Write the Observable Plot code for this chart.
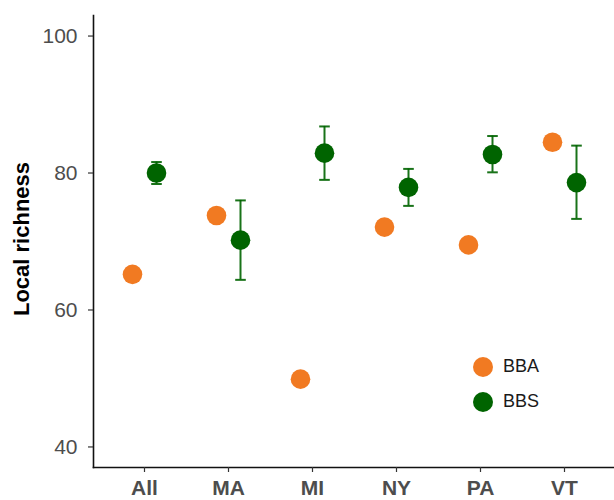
<!DOCTYPE html>
<html><head><meta charset="utf-8">
<script src="https://cdn.jsdelivr.net/npm/d3@7"></script>
<script src="https://cdn.jsdelivr.net/npm/@observablehq/plot@0.6"></script>
<style>
body{margin:0;background:#fff;font-family:"Liberation Sans",Arial,sans-serif}
#wrap{position:relative;width:614px;height:500px}
#ylab{position:absolute;left:22px;top:239px;transform:translate(-50%,-50%) rotate(-90deg);white-space:nowrap;font-size:22px;font-weight:bold;color:#000;line-height:1}
#legend{position:absolute;left:473px;top:349px;font-size:18px;color:#1a1a1a}
#legend .row{display:flex;align-items:center;height:35px;margin-top:0}
#legend .sw{width:20px;height:20px;border-radius:50%;margin-right:10px}
svg text{font-family:"Liberation Sans",Arial,sans-serif}
</style></head><body>
<div id="wrap"></div>
<script>
const states = ["All","MA","MI","NY","PA","VT"];
const bba = [65.2, 73.8, 49.9, 72.1, 69.5, 84.5];
const bbs = [80.0, 70.2, 82.9, 77.9, 82.7, 78.6];
const bbsLow = [78.4, 64.4, 79.0, 75.2, 80.1, 73.3];
const bbsHigh = [81.6, 76.0, 86.8, 80.6, 85.4, 84.0];
const yTicks = [40, 60, 80, 100];
const sources = ["BBA", "BBS"];
const colors = ["#f17a22", "#006400"];

const bbaData = states.map((s, i) => ({state: s, value: bba[i]}));
const bbsData = states.map((s, i) => ({state: s, value: bbs[i], lo: bbsLow[i], hi: bbsHigh[i]}));

const cap = {draw(ctx, size) { const r = Math.sqrt(size / Math.PI); ctx.moveTo(-r, 0); ctx.lineTo(r, 0); }};

const chart = Plot.plot({
  width: 614, height: 500,
  marginLeft: 93, marginRight: 0, marginTop: 15, marginBottom: 33,
  style: {background: "#fff", fontFamily: "Liberation Sans, Arial, sans-serif"},
  x: {type: "point", domain: states, padding: 0.6},
  y: {domain: [37, 103]},
  marks: [
    Plot.frame({anchor: "left", stroke: "#111", strokeWidth: 1.6}),
    Plot.frame({anchor: "bottom", stroke: "#111", strokeWidth: 1.6}),
    Plot.axisY({ticks: yTicks, tickSize: 5, tickPadding: 11, fontSize: 21, label: null, stroke: "#333", fill: "#4d4d4d", strokeWidth: 1.2}),
    Plot.axisX({tickSize: 5, tickPadding: 8, fontSize: 21, fontWeight: "bold", label: null, stroke: "#333", fill: "#4d4d4d", strokeWidth: 1.2}),
    Plot.ruleX(bbsData, {x: "state", y1: "lo", y2: "hi", dx: 12, stroke: colors[1], strokeWidth: 2, strokeOpacity: 0.9}),
    Plot.dot(bbsData, {x: "state", y: "lo", dx: 12, symbol: cap, r: 5.3, stroke: colors[1], strokeWidth: 2, strokeOpacity: 0.9, fill: "none"}),
    Plot.dot(bbsData, {x: "state", y: "hi", dx: 12, symbol: cap, r: 5.3, stroke: colors[1], strokeWidth: 2, strokeOpacity: 0.9, fill: "none"}),
    Plot.dot(bbaData, {x: "state", y: "value", dx: -12, r: 9.8, fill: colors[0]}),
    Plot.dot(bbsData, {x: "state", y: "value", dx: 12, r: 9.8, fill: colors[1]})
  ]
});
const wrap = document.getElementById("wrap");
wrap.appendChild(chart);
const yl = document.createElement("div");
yl.id = "ylab"; yl.textContent = "Local richness";
wrap.appendChild(yl);
const lg = document.createElement("div");
lg.id = "legend";
sources.forEach((s, i) => {
  const row = document.createElement("div"); row.className = "row";
  const sw = document.createElement("div"); sw.className = "sw"; sw.style.background = colors[i];
  const t = document.createElement("span"); t.textContent = s;
  row.appendChild(sw); row.appendChild(t); lg.appendChild(row);
});
wrap.appendChild(lg);
</script>
</body></html>
